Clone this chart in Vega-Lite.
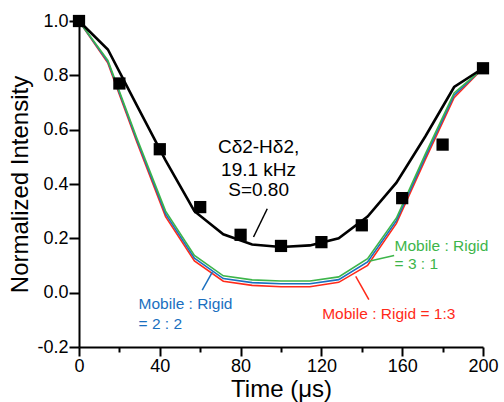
{
  "$schema": "https://vega.github.io/schema/vega-lite/v6.json",
  "width": 404,
  "height": 326,
  "autosize": "none",
  "padding": {"left": 79, "top": 21, "right": 21, "bottom": 55},
  "config": {
    "view": {"stroke": null},
    "font": "Liberation Sans",
    "axis": {
      "domainColor": "black",
      "domainWidth": 2,
      "tickColor": "black",
      "tickWidth": 2,
      "labelFont": "Liberation Sans",
      "labelFontSize": 18,
      "labelColor": "black",
      "titleFont": "Liberation Sans",
      "titleFontSize": 24,
      "titleFontWeight": "normal",
      "titleColor": "black",
      "grid": false
    }
  },
  "datasets": {
    "sim": [
      {"t": 0, "black": 1.0, "green": 1.0, "blue": 1.0, "red": 1.0},
      {"t": 14.29, "black": 0.895, "green": 0.855, "blue": 0.85, "red": 0.845},
      {"t": 28.57, "black": 0.69, "green": 0.57, "blue": 0.563, "red": 0.556},
      {"t": 42.86, "black": 0.487, "green": 0.30, "blue": 0.29, "red": 0.28},
      {"t": 57.14, "black": 0.30, "green": 0.137, "blue": 0.127, "red": 0.117},
      {"t": 71.43, "black": 0.215, "green": 0.062, "blue": 0.052, "red": 0.042},
      {"t": 85.71, "black": 0.177, "green": 0.047, "blue": 0.037, "red": 0.027},
      {"t": 100, "black": 0.168, "green": 0.043, "blue": 0.033, "red": 0.022},
      {"t": 114.29, "black": 0.174, "green": 0.043, "blue": 0.033, "red": 0.022},
      {"t": 128.57, "black": 0.20, "green": 0.058, "blue": 0.048, "red": 0.038},
      {"t": 142.86, "black": 0.28, "green": 0.125, "blue": 0.113, "red": 0.10},
      {"t": 157.14, "black": 0.405, "green": 0.275, "blue": 0.265, "red": 0.255},
      {"t": 171.43, "black": 0.575, "green": 0.51, "blue": 0.50, "red": 0.49},
      {"t": 185.71, "black": 0.757, "green": 0.735, "blue": 0.727, "red": 0.718},
      {"t": 200, "black": 0.826, "green": 0.826, "blue": 0.826, "red": 0.826}
    ],
    "exp": [
      {"t": 0, "y": 1.0},
      {"t": 20, "y": 0.77},
      {"t": 40, "y": 0.528},
      {"t": 60, "y": 0.315},
      {"t": 80, "y": 0.213},
      {"t": 100, "y": 0.172},
      {"t": 120, "y": 0.186},
      {"t": 140, "y": 0.248},
      {"t": 160, "y": 0.348},
      {"t": 180, "y": 0.545},
      {"t": 200, "y": 0.826}
    ],
    "labels": [
      {"t": 88.9, "y": 0.536, "text": "Cδ2-Hδ2,", "series": "black", "align": "center"},
      {"t": 88.9, "y": 0.450, "text": "19.1 kHz", "series": "black", "align": "center"},
      {"t": 88.9, "y": 0.377, "text": "S=0.80", "series": "black", "align": "center"},
      {"t": 29.5, "y": -0.040, "text": "Mobile : Rigid", "series": "blue", "align": "left"},
      {"t": 29.5, "y": -0.114, "text": "= 2 : 2", "series": "blue", "align": "left"},
      {"t": 156.2, "y": 0.172, "text": "Mobile : Rigid", "series": "green", "align": "left"},
      {"t": 156.2, "y": 0.107, "text": "= 3 : 1", "series": "green", "align": "left"},
      {"t": 120.4, "y": -0.077, "text": "Mobile : Rigid = 1:3", "series": "red", "align": "left"}
    ],
    "pointers": [
      {"t": 93.2, "y": 0.309, "t2": 86.4, "y2": 0.205, "series": "black"},
      {"t": 61.0, "y": 0.009, "t2": 66.0, "y2": 0.076, "series": "blue"},
      {"t": 156.0, "y": 0.137, "t2": 143.5, "y2": 0.116, "series": "green"},
      {"t": 143.5, "y": -0.026, "t2": 137.0, "y2": 0.060, "series": "red"}
    ]
  },
  "layer": [
    {
      "data": {"name": "sim"},
      "mark": {"type": "line", "color": "#ff2a1a", "strokeWidth": 1.6},
      "encoding": {
        "x": {
          "field": "t", "type": "quantitative",
          "scale": {"domain": [0, 200], "nice": false},
          "axis": {
            "title": "Time (μs)",
            "values": [0, 20, 40, 60, 80, 100, 120, 140, 160, 180, 200],
            "labelExpr": "datum.value % 40 == 0 ? format(datum.value, 'd') : ''",
            "tickSize": {"condition": {"test": "datum.value % 40 != 0", "value": 5}, "value": 9},
            "labelPadding": 1,
            "titlePadding": 2,
            "labelFlush": false,
            "labelOverlap": false
          }
        },
        "y": {
          "field": "red", "type": "quantitative",
          "scale": {"domain": [-0.2, 1.0], "nice": false},
          "axis": {
            "title": "Normalized Intensity",
            "values": [-0.2, -0.1, 0, 0.1, 0.2, 0.3, 0.4, 0.5, 0.6, 0.7, 0.8, 0.9, 1.0],
            "labelExpr": "round(datum.value * 10) % 2 == 0 ? replace(format(datum.value, '.1f'), '−', '-') : ''",
            "tickSize": {"condition": {"test": "round(datum.value * 10) % 2 != 0", "value": 5}, "value": 10},
            "labelPadding": 1,
            "titlePadding": 4,
            "labelFlush": false,
            "labelOverlap": false
          }
        }
      }
    },
    {
      "data": {"name": "sim"},
      "mark": {"type": "line", "color": "#1a6fbf", "strokeWidth": 1.6},
      "encoding": {
        "x": {"field": "t", "type": "quantitative"},
        "y": {"field": "blue", "type": "quantitative"}
      }
    },
    {
      "data": {"name": "sim"},
      "mark": {"type": "line", "color": "#3db54a", "strokeWidth": 1.6},
      "encoding": {
        "x": {"field": "t", "type": "quantitative"},
        "y": {"field": "green", "type": "quantitative"}
      }
    },
    {
      "data": {"name": "sim"},
      "mark": {"type": "line", "color": "black", "strokeWidth": 2.6},
      "encoding": {
        "x": {"field": "t", "type": "quantitative"},
        "y": {"field": "black", "type": "quantitative"}
      }
    },
    {
      "data": {"name": "exp"},
      "mark": {"type": "point", "shape": "square", "filled": true, "color": "black", "size": 150, "opacity": 1},
      "encoding": {
        "x": {"field": "t", "type": "quantitative"},
        "y": {"field": "y", "type": "quantitative"}
      }
    },
    {
      "data": {"name": "pointers"},
      "mark": {"type": "rule", "strokeWidth": 1.5},
      "encoding": {
        "x": {"field": "t", "type": "quantitative"},
        "y": {"field": "y", "type": "quantitative"},
        "x2": {"field": "t2"},
        "y2": {"field": "y2"},
        "color": {"field": "series", "type": "nominal", "scale": {"domain": ["black", "blue", "green", "red"], "range": ["black", "#1a6fbf", "#3db54a", "#ff2a1a"]}, "legend": null}
      }
    },
    {
      "data": {"name": "labels"},
      "transform": [{"filter": "datum.align == 'center'"}],
      "mark": {"type": "text", "align": "center", "baseline": "middle", "fontSize": 19, "font": "Liberation Sans"},
      "encoding": {
        "x": {"field": "t", "type": "quantitative"},
        "y": {"field": "y", "type": "quantitative"},
        "text": {"field": "text"},
        "color": {"field": "series", "type": "nominal", "legend": null}
      }
    },
    {
      "data": {"name": "labels"},
      "transform": [{"filter": "datum.align == 'left'"}],
      "mark": {"type": "text", "align": "left", "baseline": "middle", "fontSize": 15.5, "font": "Liberation Sans"},
      "encoding": {
        "x": {"field": "t", "type": "quantitative"},
        "y": {"field": "y", "type": "quantitative"},
        "text": {"field": "text"},
        "color": {"field": "series", "type": "nominal", "legend": null}
      }
    }
  ]
}
